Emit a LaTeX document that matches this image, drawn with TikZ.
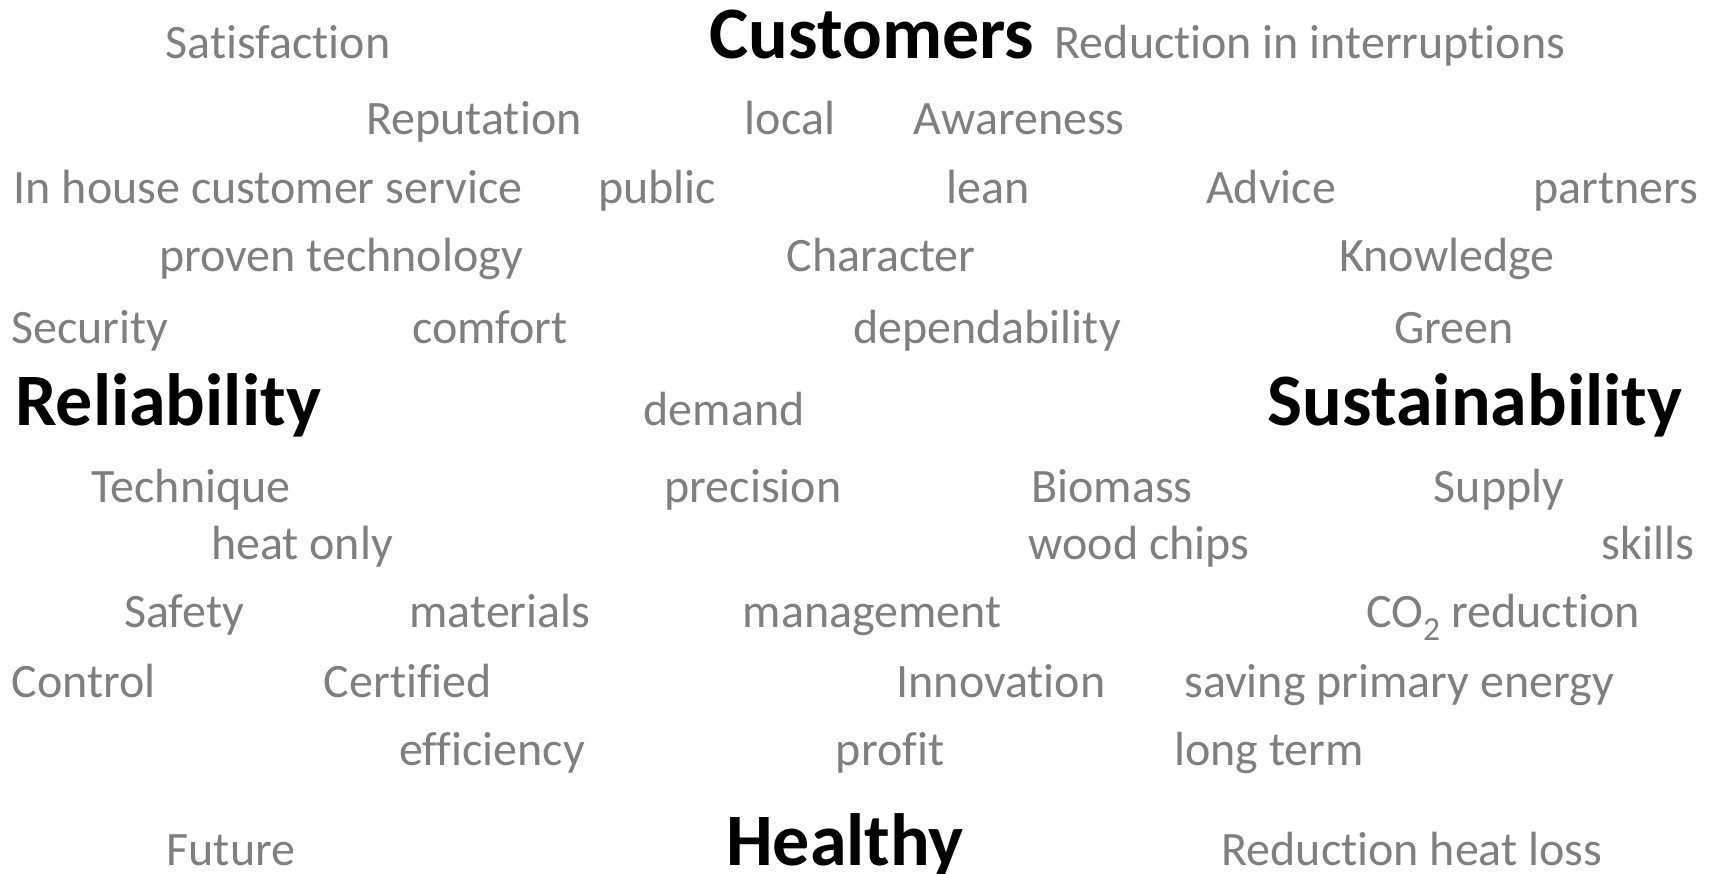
\documentclass[tikz,border=0pt]{standalone}
\usepackage{fontspec}
\setmainfont[RawFeature={-liga;-clig}]{Carlito}
\definecolor{wgray}{RGB}{127,127,127}
\tikzset{
  w/.style={text=wgray, font=\fontsize{48}{58}\selectfont, anchor=base, inner sep=0pt},
  hd/.style={text=black, font=\bfseries\fontsize{74}{88}\selectfont, anchor=base, inner sep=0pt}
}
\begin{document}
\begin{tikzpicture}[x=1pt,y=-1pt]
\useasboundingbox (0,0) rectangle (1715,874);
\begin{scope}[shift={(0,2)}]
% row 1
\node[w]  (satisfaction) at (278,57) {Satisfaction};
\node[hd] (customers)    at (872,57) {Customers};
\node[w]  (redint)       at (1310,57) {Reduction in interruptions};
% row 2
\node[w] (reputation) at (474,133) {Reputation};
\node[w] (local)      at (790,133) {local};
\node[w] (awareness)  at (1019,133) {Awareness};
% row 3
\node[w] (inhouse)  at (268,202) {In house customer service};
\node[w] (public)   at (657,202) {public};
\node[w] (lean)     at (988,202) {lean};
\node[w] (advice)   at (1271,202) {Advice};
\node[w] (partners) at (1616,202) {partners};
% row 4
\node[w] (proven)    at (341,270) {proven technology};
\node[w] (character) at (881,270) {Character};
\node[w] (knowledge) at (1447,270) {Knowledge};
% row 5
\node[w] (security)      at (90,341) {Security};
\node[w] (comfort)       at (490,341) {comfort};
\node[w] (dependability) at (987,341) {dependability};
\node[w] (green)         at (1454,341) {Green};
% row 6
\node[hd] (reliability)    at (168,423) {Reliability};
\node[w]  (demand)         at (724,423) {demand};
\node[hd] (sustainability) at (1475,423) {Sustainability};
% row 7
\node[w] (technique) at (191,500) {Technique};
\node[w] (precision) at (753,500) {precision};
\node[w] (biomass)   at (1112,500) {Biomass};
\node[w] (supply)    at (1499,500) {Supply};
% row 8
\node[w] (heatonly)  at (302,557) {heat only};
\node[w] (woodchips) at (1139,557) {wood chips};
\node[w] (skills)    at (1648,557) {skills};
% row 9
\node[w] (safety)     at (184,625) {Safety};
\node[w] (materials)  at (500,625) {materials};
\node[w] (management) at (872,625) {management};
\node[w] (co2)        at (1503,625) {CO\textsubscript{2} reduction};
% row 10
\node[w] (control)    at (84,695) {Control};
\node[w] (certified)  at (408,695) {Certified};
\node[w] (innovation) at (1001,695) {Innovation};
\node[w] (saving)     at (1399,695) {saving primary energy};
% row 11
\node[w] (efficiency) at (492,763) {efficiency};
\node[w] (profit)     at (890,763) {profit};
\node[w] (longterm)   at (1269,763) {long term};
% row 12
\node[w]  (future)  at (231,863) {Future};
\node[hd] (healthy) at (845,863) {Healthy};
\node[w]  (redheat) at (1412,863) {Reduction heat loss};
\end{scope}
\end{tikzpicture}
\end{document}
